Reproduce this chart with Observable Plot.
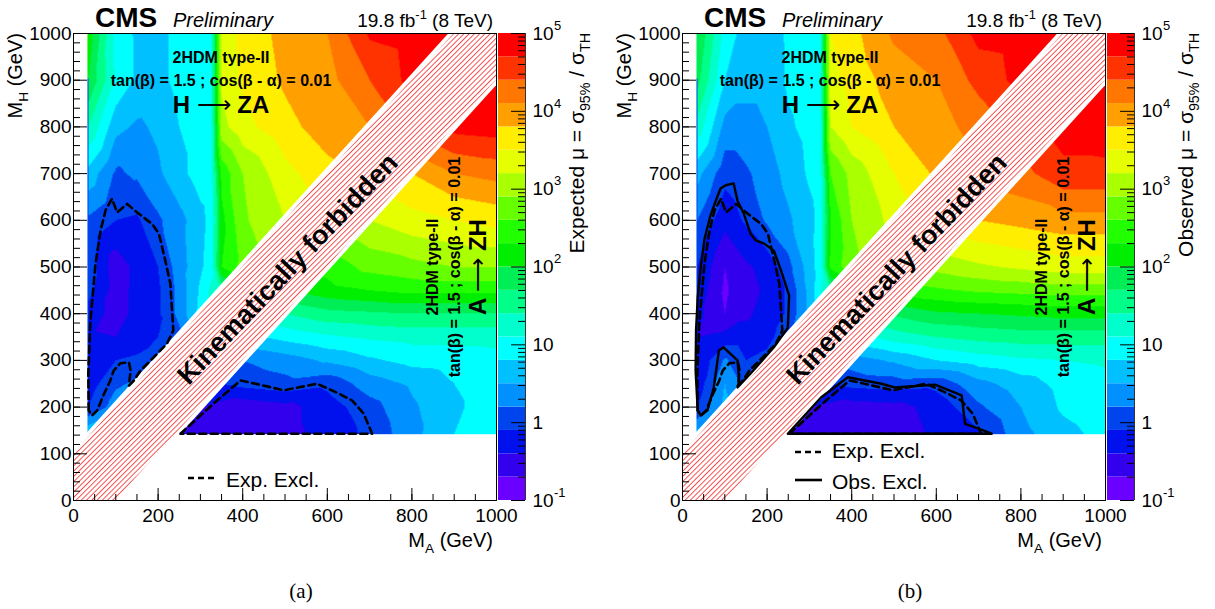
<!DOCTYPE html>
<html><head><meta charset="utf-8">
<script src="https://cdn.jsdelivr.net/npm/d3@7"></script>
<script src="https://cdn.jsdelivr.net/npm/@observablehq/plot@0.6"></script>
<style>
html,body{margin:0;padding:0;background:#fff;}
#root{position:relative;width:1215px;height:609px;overflow:hidden;background:#fff;}
</style></head>
<body><div id="root"></div>
<script>
// ---------------- DATA ----------------
const _ = null;
// scan grid: M_A columns and M_H rows (GeV)
const maPoints = [35, 100, 150, 200, 250, 300, 325, 350, 400, 450, 500, 550, 600, 700, 800, 900, 1000];
const mhPoints = [142, 200, 250, 300, 350, 400, 450, 500, 600, 700, 800, 900, 1000];
// log10 of expected mu = sigma95 / sigmaTH, one row per M_H
const expectedLog10Mu = [
  [0.8, _, _, _, -0.5, _, _, _, -0.6, _, -0.5, _, -0.3, -0.03, 0.4, 0.8, 0.95],
  [-0.1, 0.35, _, _, _, -0.4, _, _, -0.6, _, -0.5, _, -0.25, 0.08, 0.45, 0.75, 0.95],
  [-0.25, 0.15, 0.25, _, _, _, _, -0.1, 0.0, _, 0.1, _, -0.02, 0.35, 0.55, 0.8, 0.95],
  [-0.35, -0.1, -0.05, 0.05, _, _, _, _, 0.2, _, 0.35, _, 0.55, 0.75, 0.9, 0.95, 1.0],
  [-0.35, -0.4, -0.25, -0.1, 0.1, _, _, _, _, 0.8, 0.9, _, 1.05, 1.15, 1.2, 1.2, 1.2],
  [-0.2, -0.55, -0.3, -0.15, 0.3, 0.9, _, _, _, _, 1.4, _, 1.6, 1.65, 1.7, 1.7, 1.7],
  [0.0, -0.55, -0.3, -0.15, 0.3, 0.85, _, 1.5, _, _, _, 2.1, 2.2, 2.3, 2.4, 2.4, 2.4],
  [0.1, -0.6, -0.3, -0.1, 0.35, 0.75, 0.95, 2.3, 2.7, _, _, _, 2.4, 2.7, 2.8, 2.9, 2.9],
  [0.15, -0.1, -0.15, 0.15, 0.4, 0.7, 0.9, 2.2, 2.85, _, 3.2, _, _, 3.2, 3.4, 3.5, 3.6],
  [0.7, 0.15, 0.25, 0.45, 0.7, 0.95, 1.0, 2.4, 2.9, _, 3.4, _, 3.7, _, 3.8, 4.1, 4.2],
  [1.4, 0.6, 0.45, 0.55, 0.8, 0.95, 1.0, 3.1, 3.4, _, 3.7, _, 3.95, 4.1, _, 4.8, 4.85],
  [2.0, 1.05, 0.75, 0.7, 0.9, 1.0, 1.05, 3.25, 3.55, _, 3.85, _, 4.0, 4.4, 4.8, _, 4.9],
  [2.2, 1.0, 0.75, 0.7, 0.9, 1.0, 1.05, 3.3, 3.6, _, 3.9, _, 4.1, 4.75, 4.85, 4.85, _]
];
// log10 of observed mu
const observedLog10Mu = [
  [0.6, _, _, _, -0.6, _, _, _, -0.7, _, -0.55, _, -0.35, -0.15, 0.4, 0.7, 0.9],
  [-0.1, 0.6, _, _, _, -0.4, _, _, -0.55, _, -0.5, _, -0.3, 0.15, 0.5, 0.85, 1.0],
  [-0.3, 0.5, 0.1, _, _, _, _, -0.1, 0.0, _, 0.05, _, 0.0, 0.4, 0.65, 0.9, 1.0],
  [-0.4, 0.25, -0.1, 0.0, _, _, _, _, 0.35, _, 0.55, _, 0.8, 0.95, 1.05, 1.1, 1.15],
  [-0.4, -0.3, -0.3, -0.2, 0.1, _, _, _, _, 1.1, 1.25, _, 1.4, 1.5, 1.55, 1.55, 1.55],
  [-0.3, -0.7, -0.45, -0.3, -0.05, 0.6, _, _, _, _, 1.75, _, 1.95, 2.0, 2.05, 2.1, 2.1],
  [-0.2, -0.75, -0.5, -0.35, -0.05, 0.6, _, 1.5, _, _, _, 2.5, 2.55, 2.65, 2.7, 2.75, 2.75],
  [-0.1, -0.7, -0.45, -0.3, 0.1, 0.65, 0.95, 2.4, 2.8, _, _, _, 3.0, 3.15, 3.25, 3.35, 3.35],
  [0.2, -0.3, -0.05, 0.25, 0.45, 0.7, 0.9, 2.3, 2.9, _, 3.3, _, _, 3.8, 3.9, 4.0, 4.0],
  [0.6, 0.0, 0.15, 0.35, 0.6, 0.85, 0.95, 2.6, 3.0, _, 3.5, _, 3.85, _, 4.3, 4.6, 4.6],
  [1.3, 0.4, 0.4, 0.5, 0.75, 0.9, 0.95, 3.2, 3.5, _, 3.8, _, 4.0, 4.2, _, 4.85, 4.9],
  [1.8, 0.8, 0.6, 0.6, 0.85, 0.95, 1.0, 3.4, 3.6, _, 3.95, _, 4.1, 4.5, 4.8, _, 4.9],
  [2.0, 1.0, 0.65, 0.65, 0.85, 1.0, 1.05, 3.5, 3.7, _, 4.15, _, 4.3, 4.8, 4.85, 4.85, _]
];
// exclusion contours (mu = 1), [M_A, M_H]
const expExclHZA = [[36,193],[35,271],[40,385],[52,507],[64,578],[76,622],[91,646],[103,617],[127,635],[150,617],[186,592],[202,571],[217,514],[229,464],[233,407],[236,364],[221,336],[190,307],[158,278],[143,257],[131,246],[135,278],[131,296],[111,294],[95,278],[87,257],[72,228],[56,193],[44,182],[36,193]];
const expExclAZH = [[253,143],[300,182],[348,221],[395,257],[440,248],[497,236],[576,250],[620,232],[659,214],[686,186],[706,143],[253,143]];
const obsExclHZA = [[36,193],[31,278],[32,364],[36,435],[43,499],[52,560],[66,610],[80,645],[90,668],[102,675],[121,679],[130,642],[145,614],[161,571],[173,557],[193,550],[216,535],[233,492],[252,439],[249,370],[216,328],[161,272],[130,242],[134,257],[130,300],[97,328],[86,321],[74,242],[59,193],[43,182],[36,193]];
const obsExclAZH = [[249,143],[328,221],[391,264],[470,250],[502,242],[597,248],[660,225],[668,164],[700,154],[731,143],[249,143]];
// scan range and kinematic band
const scanMA = [33, 1000];
const scanMH = [142, 1000];
const forbiddenMA = [0, 1000];
const hatchHalfWidth = 100;
const gapHalfWidth = 112;
// color levels (log10 mu) and palette
const colorEdges = [-1, -0.7, -0.4, -0.1, 0.2, 0.5, 0.8, 1.1, 1.4, 1.7, 2.0, 2.3, 2.6, 2.9, 3.2, 3.5, 3.8, 4.1, 4.4, 4.7, 5];
const bandColors = ["#6a00ff","#3300ee","#0011ee","#0044ee","#0090ff","#00c0ff","#00ffff","#00ffcc","#00ff88","#00ee55","#00ee00","#22ff00","#66ff00","#aaff00","#e6ff00","#ffee00","#ffa000","#ff7700","#ff3300","#ff0000"];
// ticks
const xMajorTicks = [0, 200, 400, 600, 800, 1000];
const yMajorTicks = [0, 100, 200, 300, 400, 500, 600, 700, 800, 900, 1000];
const cbMajorTicks = [0.1, 1, 10, 100, 1000, 10000, 100000];
const cbTickLabels = [
  {value: 100000, base: "10", exp: "5"},
  {value: 10000, base: "10", exp: "4"},
  {value: 1000, base: "10", exp: "3"},
  {value: 100, base: "10", exp: "2"},
  {value: 10, base: "10", exp: ""},
  {value: 1, base: "1", exp: ""},
  {value: 0.1, base: "10", exp: "-1"}
];

// ---------------- LAYOUT ----------------
const FONT = "'Liberation Sans', Arial, Helvetica, sans-serif";
const W = 497, H = 609, ML = 73, MR = 1, MT = 33, MB = 109;
const FW = W - ML - MR, FH = H - MT - MB;
const CBW = 27;

const colorScale = {type: "threshold", domain: colorEdges.slice(1, -1), range: bandColors};
const xMinor = d3.range(0, 1001, 50);
const yMinor = d3.range(0, 1001, 20);
const cbMinor = [];
for (let e = -1; e <= 4; e++) for (let m = 2; m <= 9; m++) cbMinor.push(m * Math.pow(10, e));
const cbBands = colorEdges.slice(0, -1).map((lo, i) => ({lo, hi: colorEdges[i + 1]}));

function gridPoints(rows) {
  const pts = [];
  mhPoints.forEach((mh, i) => maPoints.forEach((ma, j) => {
    const v = rows[i][j];
    if (v != null) pts.push({ma, mh, v});
  }));
  return pts;
}

function richText(items) {
  return (index, scales, values, dims) => {
    const g = d3.create("svg:g").attr("font-family", FONT);
    for (const it of items) {
      const t = g.append("text")
        .attr("transform", `translate(${dims.marginLeft + it.x},${dims.marginTop + it.y}) rotate(${it.rotate || 0})`)
        .attr("text-anchor", it.anchor || "start")
        .attr("font-size", it.size)
        .attr("font-weight", it.weight || "normal")
        .attr("font-style", it.italic ? "italic" : "normal")
        .attr("fill", "black");
      if (it.family) t.attr("font-family", it.family);
      let shift = 0;
      for (const [s, kind, w] of it.parts) {
        const target = kind === "sup" ? -0.42 * it.size : kind === "sub" ? 0.3 * it.size : 0;
        const ts = t.append("tspan").text(s);
        if (target !== shift) ts.attr("dy", target - shift);
        if (kind) ts.attr("font-size", 0.68 * it.size);
        if (w) ts.attr("font-weight", w);
        shift = target;
      }
    }
    return g.node();
  };
}

function legendLines(items) {
  return (index, scales, values, dims) => {
    const g = d3.create("svg:g");
    for (const it of items) {
      g.append("line")
        .attr("x1", dims.marginLeft + it.x1).attr("x2", dims.marginLeft + it.x2)
        .attr("y1", dims.marginTop + it.y).attr("y2", dims.marginTop + it.y)
        .attr("stroke", "black").attr("stroke-width", 2.6)
        .attr("stroke-dasharray", it.dash || null);
    }
    return g.node();
  };
}

function hatchDefs(id) {
  return () => {
    const defs = d3.create("svg:defs");
    const p = defs.append("pattern").attr("id", id)
      .attr("patternUnits", "userSpaceOnUse").attr("width", 3.7).attr("height", 10)
      .attr("patternTransform", "rotate(45)");
    p.append("rect").attr("width", 3.7).attr("height", 10).attr("fill", "white");
    p.append("line").attr("x1", 0.5).attr("x2", 0.5).attr("y1", 0).attr("y2", 10)
      .attr("stroke", "#f01010").attr("stroke-width", 0.75);
    return defs.node();
  };
}

const DASH = "7,4.5";
const lineOpts = (extra) => Object.assign({x: d => d[0], y: d => d[1], stroke: "black", strokeWidth: 2.6, strokeLinejoin: "round"}, extra);

function mainPanel({id, values, lines, texts, legends, legendTexts}) {
  return Plot.plot({
    width: W, height: H, marginLeft: ML, marginRight: MR, marginTop: MT, marginBottom: MB,
    style: {fontFamily: FONT, fontSize: "19px", background: "transparent", color: "black", overflow: "visible"},
    x: {domain: [0, 1000]},
    y: {domain: [0, 1000]},
    color: colorScale,
    marks: [
      hatchDefs(id),
      Plot.raster(gridPoints(values), {x: "ma", y: "mh", fill: "v", interpolate: "barycentric",
        x1: scanMA[0], x2: scanMA[1], y1: scanMH[0], y2: scanMH[1]}),
      Plot.areaY(forbiddenMA, {x: d => d, y1: d => d - gapHalfWidth, y2: d => d + gapHalfWidth, fill: "white", clip: true}),
      Plot.areaY(forbiddenMA, {x: d => d, y1: d => d - hatchHalfWidth, y2: d => d + hatchHalfWidth, fill: `url(#${id})`, clip: true}),
      ...lines,
      Plot.tickX(xMinor, {x: d => d, insetTop: FH - 6, strokeWidth: 1}),
      Plot.tickX(xMajorTicks, {x: d => d, insetTop: FH - 12, strokeWidth: 1}),
      Plot.tickY(yMinor, {y: d => d, insetRight: FW - 7, strokeWidth: 1}),
      Plot.tickY(yMajorTicks, {y: d => d, insetRight: FW - 14, strokeWidth: 1}),
      Plot.axisX({ticks: xMajorTicks, tickSize: 0, tickPadding: 8, label: null, fontSize: 19, tickFormat: d => String(d)}),
      Plot.axisY({ticks: yMajorTicks, tickSize: 0, tickPadding: 2, label: null, fontSize: 19, tickFormat: d => String(d)}),
      Plot.frame({stroke: "black", strokeWidth: 1}),
      legendLines(legends),
      richText(texts.concat(legendTexts))
    ]
  });
}

function colorBar({width, title}) {
  return Plot.plot({
    width, height: H, marginLeft: 1, marginRight: width - 1 - CBW, marginTop: MT, marginBottom: MB,
    style: {fontFamily: FONT, fontSize: "19px", background: "transparent", color: "black", overflow: "visible"},
    x: {domain: [0, 1], axis: null},
    y: {type: "log", domain: [0.1, 100000], axis: null},
    color: colorScale,
    marks: [
      Plot.rect(cbBands, {x1: d => 0, x2: d => 1, y1: d => Math.pow(10, d.lo), y2: d => Math.pow(10, d.hi), fill: d => (d.lo + d.hi) / 2}),
      Plot.tickY(cbMinor, {y: d => d, insetLeft: CBW - 7, strokeWidth: 1}),
      Plot.tickY(cbMajorTicks, {y: d => d, insetLeft: CBW - 14, strokeWidth: 1}),
      Plot.ruleX([1], {stroke: "#333", strokeWidth: 1}),
      Plot.text(cbTickLabels, {y: "value", text: "base", frameAnchor: "right", textAnchor: "start", dx: 7, fontSize: 19}),
      Plot.text(cbTickLabels.filter(d => d.exp), {y: "value", text: "exp", frameAnchor: "right", textAnchor: "start", dx: 28.5, dy: -8, fontSize: 13}),
      richText([{x: 86, y: 0, size: 21, anchor: "end", rotate: -90,
        parts: [[title + " \u03bc = \u03c3"], ["95%", "sub"], [" / \u03c3"], ["TH", "sub"]]}])
    ]
  });
}

const commonTexts = (caption) => [
  {x: 22, y: -6, size: 28, weight: "bold", parts: [["CMS"]]},
  {x: 100, y: -6, size: 20, italic: true, parts: [["Preliminary"]]},
  {x: 420, y: -6, size: 19, anchor: "end", parts: [["19.8 fb"], ["-1", "sup"], [" (8 TeV)"]]},
  {x: 148, y: 30, size: 16, weight: "bold", anchor: "middle", parts: [["2HDM type-II"]]},
  {x: 148, y: 53, size: 16, weight: "bold", anchor: "middle", parts: [["tan(\u03b2) = 1.5 ; cos(\u03b2 - \u03b1) = 0.01"]]},
  {x: 148, y: 80, size: 24, weight: "bold", anchor: "middle", parts: [["H "], ["\u27f6", "", "normal"], [" ZA"]]},
  {x: 221, y: 242, size: 27, weight: "bold", anchor: "middle", rotate: -46.5, parts: [["Kinematically forbidden"]]},
  {x: 365, y: 234, size: 16, weight: "bold", anchor: "middle", rotate: -90, parts: [["2HDM type-II"]]},
  {x: 387, y: 234, size: 16, weight: "bold", anchor: "middle", rotate: -90, parts: [["tan(\u03b2) = 1.5 ; cos(\u03b2 - \u03b1) = 0.01"]]},
  {x: 413, y: 234, size: 24, weight: "bold", anchor: "middle", rotate: -90, parts: [["A "], ["\u27f6", "", "normal"], [" ZH"]]},
  {x: 420, y: 514, size: 20, anchor: "end", parts: [["M"], ["A", "sub"], [" (GeV)"]]},
  {x: -51, y: 0, size: 20, anchor: "end", rotate: -90, parts: [["M"], ["H", "sub"], [" (GeV)"]]},
  {x: 228, y: 565, size: 21, anchor: "middle", family: "'Liberation Serif', 'DejaVu Serif', serif", parts: [[caption]]}
];

const root = document.getElementById("root");
function place(node, left) {
  node.style.position = "absolute";
  node.style.left = left + "px";
  node.style.top = "0px";
  root.appendChild(node);
}

// Panel (a): expected
place(mainPanel({
  id: "hatchA",
  values: expectedLog10Mu,
  lines: [
    Plot.line(expExclHZA, lineOpts({strokeDasharray: DASH})),
    Plot.line(expExclAZH, lineOpts({strokeDasharray: DASH}))
  ],
  texts: commonTexts("(a)"),
  legends: [{x1: 115, x2: 141, y: 445, dash: "6,4"}],
  legendTexts: [{x: 153, y: 454, size: 21, parts: [["Exp. Excl."]]}]
}), 0);
place(colorBar({width: 110, title: "Expected"}), 497);

// Panel (b): observed
place(mainPanel({
  id: "hatchB",
  values: observedLog10Mu,
  lines: [
    Plot.line(expExclHZA, lineOpts({strokeDasharray: DASH})),
    Plot.line(expExclAZH, lineOpts({strokeDasharray: DASH})),
    Plot.line(obsExclHZA, lineOpts({strokeWidth: 2.4})),
    Plot.line(obsExclAZH, lineOpts({strokeWidth: 2.4}))
  ],
  texts: commonTexts("(b)"),
  legends: [{x1: 113, x2: 140, y: 419, dash: "6,4"}, {x1: 113, x2: 140, y: 447}],
  legendTexts: [{x: 150, y: 425, size: 21, parts: [["Exp. Excl."]]}, {x: 150, y: 456, size: 21, parts: [["Obs. Excl."]]}]
}), 609);
place(colorBar({width: 109, title: "Observed"}), 1106);
</script>
</body></html>
